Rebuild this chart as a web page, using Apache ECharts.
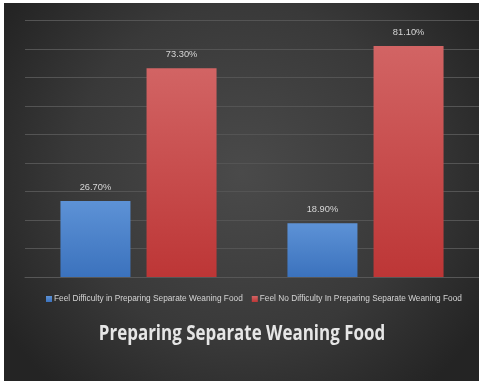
<!DOCTYPE html>
<html>
<head>
<meta charset="utf-8">
<script src="https://cdn.jsdelivr.net/npm/echarts@6/dist/echarts.min.js"></script>
<style>
  html, body { margin: 0; padding: 0; background: #ffffff; }
  #chart { position: absolute; left: 4px; top: 3px; width: 475px; height: 378px; }
</style>
</head>
<body>
<div id="chart"></div>
<script>
// Survey groups on the x axis (no visible labels)
const categories = ['Group A', 'Group B'];
// Series names shown in the legend
const seriesNames = [
  'Feel Difficulty in Preparing Separate Weaning Food',
  'Feel No Difficulty In Preparing Separate Weaning Food'
];
// Percent values per group
const difficultyValues = [26.7, 18.9];
const noDifficultyValues = [73.3, 81.1];
const chartTitle = 'Preparing Separate Weaning Food';

const uiFont = '"Liberation Sans", Arial, sans-serif';

function vGrad(top, bottom) {
  return new echarts.graphic.LinearGradient(0, 0, 0, 1, [
    { offset: 0, color: top },
    { offset: 1, color: bottom }
  ]);
}

const valueLabel = {
  show: true,
  position: 'top',
  distance: 9,
  formatter: p => p.value.toFixed(2) + '%',
  color: '#d6d6d6',
  fontFamily: uiFont,
  fontSize: 9.3
};

const chart = echarts.init(document.getElementById('chart'));
chart.setOption({
  backgroundColor: new echarts.graphic.RadialGradient(0.5, 0.45, 0.75, [
    { offset: 0, color: '#4a4a4a' },
    { offset: 0.6, color: '#393939' },
    { offset: 1, color: '#242424' }
  ]),
  animation: false,
  // Bold, narrow chart title below the legend
  graphic: [{
    type: 'text',
    x: 238,
    y: 331,
    scaleX: 0.77,
    style: {
      text: chartTitle,
      fill: '#e6e6e6',
      font: 'bold 22px "Open Sans", sans-serif',
      align: 'center',
      verticalAlign: 'middle'
    }
  }],
  legend: {
    top: 287,
    left: 37,
    width: 470,
    itemWidth: 6,
    itemHeight: 6,
    itemGap: 9,
    icon: 'rect',
    textStyle: { color: '#d4d4d4', fontFamily: uiFont, fontSize: 8.3, padding: [0, 0, 0, -3] },
    data: seriesNames
  },
  grid: { left: 21, right: 0, top: 17.7, bottom: 104 },
  xAxis: {
    type: 'category',
    data: categories,
    axisLine: { show: true, lineStyle: { color: '#575757' } },
    axisTick: { show: false },
    axisLabel: { show: false }
  },
  yAxis: {
    type: 'value',
    min: 0,
    max: 90,
    interval: 10,
    axisLabel: { show: false },
    axisLine: { show: false },
    axisTick: { show: false },
    splitLine: { lineStyle: { color: '#545454', width: 1 } }
  },
  series: [
    {
      name: seriesNames[0],
      type: 'bar',
      data: difficultyValues,
      barWidth: 70,
      barGap: '23%',
      itemStyle: { color: vGrad('#5d92d6', '#3b72bd') },
      label: valueLabel
    },
    {
      name: seriesNames[1],
      type: 'bar',
      data: noDifficultyValues,
      barWidth: 70,
      itemStyle: { color: vGrad('#d26464', '#bd3636') },
      label: valueLabel
    }
  ]
});
</script>
</body>
</html>
